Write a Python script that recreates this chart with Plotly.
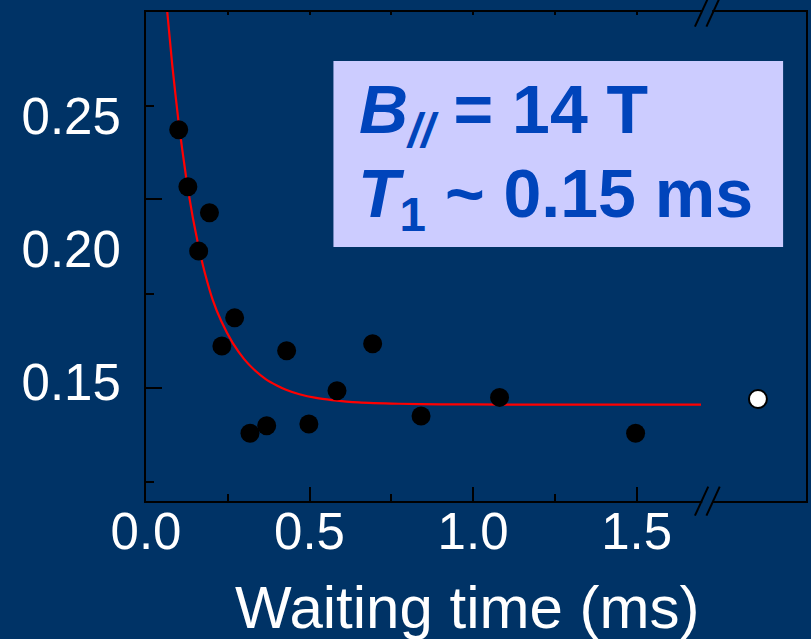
import plotly.graph_objects as go

# Relaxation measurements: waiting time (ms) vs. signal
wait_ms = [0.100, 0.128, 0.194, 0.161, 0.271, 0.232, 0.430, 0.693,
           0.584, 0.318, 0.369, 0.498, 0.841, 1.081, 1.497]
signal = [0.2449, 0.2235, 0.2137, 0.1993, 0.1742, 0.1636, 0.1618, 0.1645,
          0.1468, 0.1308, 0.1336, 0.1343, 0.1373, 0.1443, 0.1308]

# Long-wait reference point (beyond the axis break)
long_wait_ms = [1.871]
long_signal = [0.1437]

# Exponential fit curve, sampled
fit_wait_ms = [0.065, 0.080, 0.0997, 0.125, 0.143, 0.161, 0.180, 0.204,
               0.230, 0.265, 0.300, 0.331, 0.367, 0.400, 0.428, 0.469,
               0.520, 0.569, 0.650, 0.773, 0.900, 1.100, 1.400, 1.697]
fit_signal = [0.2892, 0.2696, 0.2477, 0.2251, 0.2120, 0.2009, 0.1911, 0.1810,
              0.1730, 0.1648, 0.1587, 0.1547, 0.1511, 0.1488, 0.1472, 0.1455,
              0.1441, 0.1433, 0.1424, 0.1419, 0.1417, 0.1416, 0.1416, 0.1416]

x_tick_vals = [0.0, 0.5, 1.0, 1.5]
x_tick_text = ["0.0", "0.5", "1.0", "1.5"]
x_minor_vals = [0.25, 0.75, 1.25]
x_top_vals = [0.25, 0.5, 0.75, 1.0, 1.25, 1.5]

y_tick_vals = [0.15, 0.20, 0.25]
y_tick_text = ["0.15", "0.20", "0.25"]
y_mark_major = [0.2188, 0.1477]
y_mark_minor = [0.2539, 0.1832, 0.1124]

X_RANGE = [0.0, 2.018]
Y_RANGE = [0.10534, 0.2892]
BREAK_X = 1.716

BG = "#003366"
FONT = "Liberation Sans, Arial, sans-serif"
TEXT_BLUE = "#0044BB"

fig = go.Figure()

fig.add_trace(go.Scatter(
    x=fit_wait_ms, y=fit_signal, mode="lines",
    line=dict(color="#FF0000", width=2.2, shape="spline", smoothing=0.5),
    showlegend=False, hoverinfo="skip"))

fig.add_trace(go.Scatter(
    x=wait_ms, y=signal, mode="markers",
    marker=dict(color="black", size=19, line=dict(width=0)),
    showlegend=False))

fig.add_trace(go.Scatter(
    x=long_wait_ms, y=long_signal, mode="markers",
    marker=dict(color="white", size=18, line=dict(color="black", width=2)),
    showlegend=False))

# helper traces so the tick-only overlay axes are drawn
fig.add_trace(go.Scatter(x=[], y=[], xaxis="x", yaxis="y2",
                         showlegend=False, hoverinfo="skip"))
fig.add_trace(go.Scatter(x=[], y=[], xaxis="x2", yaxis="y",
                         showlegend=False, hoverinfo="skip"))

tick_font = dict(family=FONT, size=51, color="white")

fig.update_layout(
    width=811, height=639,
    margin=dict(l=146, r=3, t=12, b=138),
    paper_bgcolor=BG, plot_bgcolor=BG,
    showlegend=False,
    xaxis=dict(
        range=X_RANGE, showgrid=False, zeroline=False,
        showline=True, linecolor="black", linewidth=2, mirror=True,
        tickmode="array", tickvals=x_tick_vals, ticktext=x_tick_text,
        ticks="inside", ticklen=14, tickwidth=2, tickcolor="black",
        minor=dict(tickmode="array", tickvals=x_minor_vals, ticks="inside",
                   ticklen=7, tickwidth=2, tickcolor="black", showgrid=False),
        tickfont=tick_font, ticklabelstandoff=-15,
    ),
    xaxis2=dict(
        range=X_RANGE, overlaying="x", side="top", anchor="y",
        showgrid=False, zeroline=False, showline=False,
        showticklabels=False, tickmode="array", tickvals=x_top_vals,
        ticks="inside", ticklen=3, tickwidth=2, tickcolor="black",
    ),
    yaxis=dict(
        range=Y_RANGE, showgrid=False, zeroline=False,
        showline=True, linecolor="black", linewidth=2, mirror=True,
        tickmode="array", tickvals=y_tick_vals, ticktext=y_tick_text,
        ticks="", tickfont=tick_font, ticklabelstandoff=13,
    ),
    yaxis2=dict(
        range=Y_RANGE, overlaying="y", side="left", anchor="x",
        showgrid=False, zeroline=False, showline=False,
        showticklabels=False, tickmode="array", tickvals=y_mark_major,
        ticks="inside", ticklen=16, tickwidth=2, tickcolor="black",
        minor=dict(tickmode="array", tickvals=y_mark_minor, ticks="inside",
                   ticklen=8, tickwidth=2, tickcolor="black", showgrid=False),
    ),
)

# Info box
fig.add_shape(type="rect", xref="paper", yref="paper",
              x0=0.2840, x1=0.9653, y0=0.5194, y1=0.8998,
              fillcolor="#CCCCFF", line=dict(width=0), layer="below")

box_font = dict(family=FONT, size=68, color=TEXT_BLUE)
fig.add_annotation(xref="paper", yref="paper", x=0.3202, y=0.7914,
                   xanchor="left", yanchor="middle", showarrow=False,
                   text="<b><i>B</i><sub><i>//</i></sub> = 14 T</b>",
                   font=box_font)
fig.add_annotation(xref="paper", yref="paper", x=0.3187, y=0.6196,
                   xanchor="left", yanchor="middle", showarrow=False,
                   text="<b><i>T</i><sub>1</sub> ~ 0.15 ms</b>",
                   font=box_font)

# x-axis title
fig.add_annotation(xref="paper", yref="paper", x=0.487, y=-0.2168,
                   xanchor="center", yanchor="middle", showarrow=False,
                   text="Waiting time (ms)",
                   font=dict(family=FONT, size=60, color="white"))

# Axis-break marks on the bottom and top axes
for yp in (0, 1):
    fig.add_shape(type="rect", xref="x", yref="paper",
                  xsizemode="pixel", xanchor=BREAK_X, x0=-5, x1=5,
                  ysizemode="pixel", yanchor=yp, y0=-3, y1=3,
                  fillcolor=BG, line=dict(width=0), layer="above")
    for dx in (0, 11.5):
        fig.add_shape(type="line", xref="x", yref="paper",
                      xsizemode="pixel", xanchor=BREAK_X,
                      x0=-12.3 + dx, x1=1.0 + dx,
                      ysizemode="pixel", yanchor=yp, y0=-14.7, y1=14.3,
                      line=dict(color="black", width=2), layer="above")

fig.write_html("out.html")
